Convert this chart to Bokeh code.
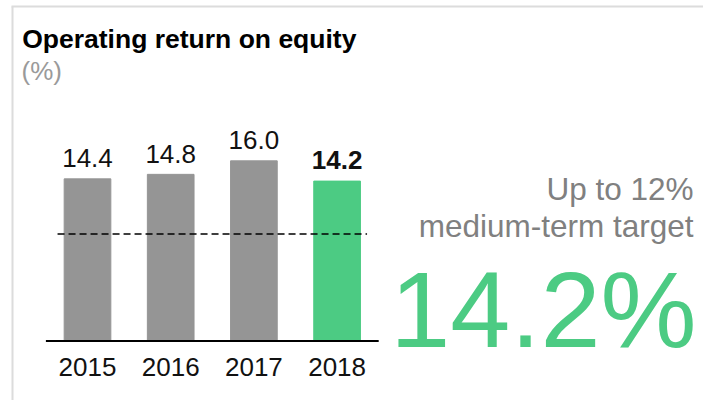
from bokeh.plotting import figure
from bokeh.models import Range1d, ColumnDataSource
from bokeh.core.properties import value
from bokeh.embed import file_html
from bokeh.resources import INLINE

# ---- data ----
years = ["2015", "2016", "2017", "2018"]
roe = [14.4, 14.8, 16.0, 14.2]
roe_labels = ["14.4", "14.8", "16.0", "14.2"]
target_level = 9.5
title_text = "Operating return on equity"
unit_text = "(%)"
target_lines = ["Up to 12%", "medium-term target"]
headline = "14.2%"

# ---- style / layout ----
FONT = "Liberation Sans"
GRAY = "#959595"
GREEN = "#4ccb83"
BORDER = "#dcdcdc"
bar_colors = [GRAY, GRAY, GRAY, GREEN]
label_colors = ["#111111"] * 4
label_styles = ["normal", "normal", "normal", "bold"]

W, H = 703, 400
PX_X = 83.2                 # pixels per category step
PX_Y = 11.26                # pixels per percentage point
X0_PX = 87.0                # pixel of first category centre
Y0_PX = 340.5               # pixel of zero line
K = 0.375                   # svg alphabetic-baseline compensation (em)

xs = -X0_PX / PX_X
xe = xs + W / PX_X
ye = Y0_PX / PX_Y
ys = ye - H / PX_Y

def dx(px):
    return xs + px / PX_X

def dy(py):
    return ye - py / PX_Y

pos = list(range(len(years)))

p = figure(width=W, height=H, x_range=Range1d(xs, xe), y_range=Range1d(ys, ye),
           output_backend="svg", toolbar_location=None,
           min_border_left=0, min_border_right=0, min_border_top=0,
           min_border_bottom=0)
p.background_fill_color = "white"
p.border_fill_color = "white"
p.outline_line_color = None
p.grid.visible = False
p.xaxis.visible = False
p.yaxis.visible = False

src = ColumnDataSource(dict(x=pos, top=roe, color=bar_colors, lab=roe_labels,
                            lc=label_colors, ls=label_styles, yr=years,
                            zero=[0] * len(years)))
p.vbar(x="x", top="top", width=0.561, color="color", source=src)
p.text(x="x", y="top", text="lab", text_color="lc", text_font_style="ls",
       text_font=value(FONT), text_font_size="26px", text_align="center",
       text_baseline="alphabetic", y_offset=-11 - K * 26, source=src)
# category (year) labels under the baseline
p.text(x="x", y="zero", text="yr", text_color="#111111",
       text_font=value(FONT), text_font_size="26px", text_align="center",
       text_baseline="alphabetic", y_offset=35.5 - K * 26, source=src)

# baseline (axis line) and target line
p.segment(x0=[pos[0] - 0.5], x1=[pos[-1] + 0.5], y0=[0], y1=[0],
          line_color="black", line_width=2)
p.segment(x0=[pos[0] - 0.36], x1=[pos[-1] + 0.36], y0=[target_level],
          y1=[target_level], line_color="black", line_width=1.6, line_dash="7 4")

def txt(text, px, py, size, color, style="normal", align="left"):
    p.text(x=[dx(px)], y=[dy(py - K * size)], text=[text], text_font=value(FONT),
           text_font_size=f"{size}px", text_color=color, text_font_style=style,
           text_align=align, text_baseline="alphabetic")

txt(title_text, 21.7, 48, 26.5, "#000000", "bold")
txt(unit_text, 21, 80, 26, "#9a9a9a")
txt(target_lines[0], 693, 200, 31.5, "#808080", align="right")
txt(target_lines[1], 693, 237.3, 31.5, "#808080", align="right")
txt(headline, 696, 349, 108, GREEN, align="right")

# panel border (top and left)
p.segment(x0=[dx(12), dx(11)], x1=[dx(12), dx(W)], y0=[dy(6), dy(6)],
          y1=[dy(H), dy(6)], line_color=BORDER, line_width=2)

open("out.html", "w").write(file_html(p, INLINE))
